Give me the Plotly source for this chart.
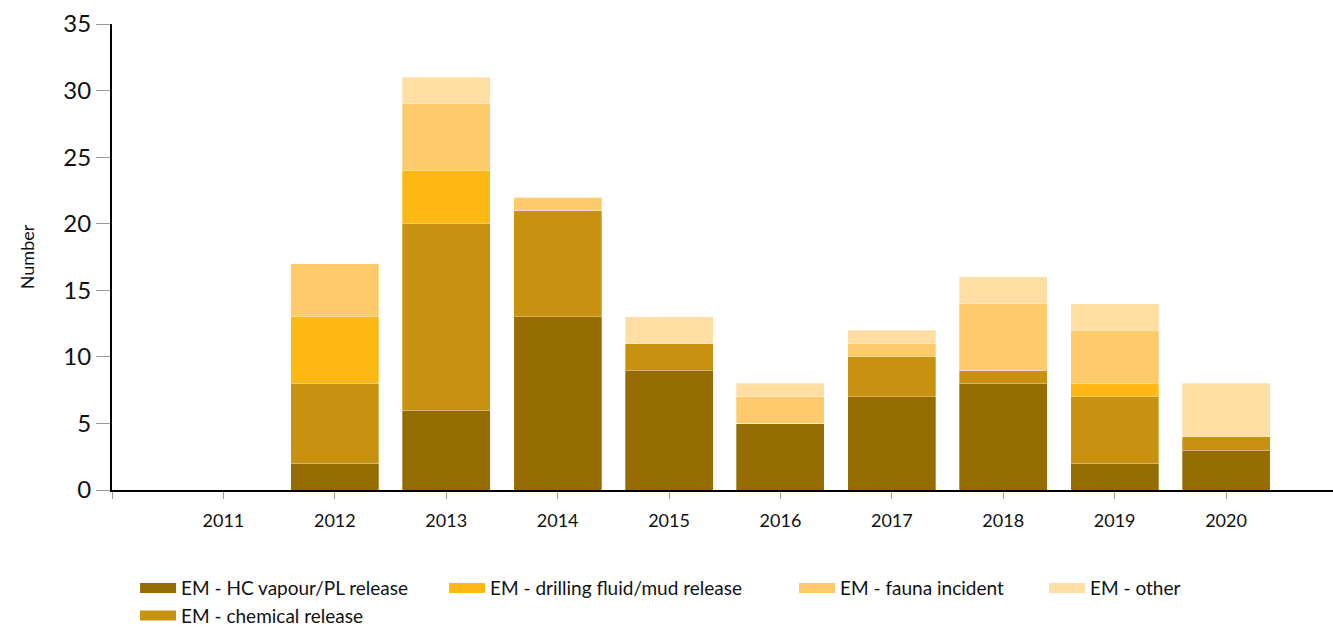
import plotly.graph_objects as go

years = [2011, 2012, 2013, 2014, 2015, 2016, 2017, 2018, 2019, 2020]
year_labels = [str(y) for y in years]

hc_vapour = [0, 2, 6, 13, 9, 5, 7, 8, 2, 3]
chemical = [0, 6, 14, 8, 2, 0, 3, 1, 5, 1]
drilling = [0, 5, 4, 0, 0, 0, 0, 0, 1, 0]
fauna = [0, 4, 5, 1, 0, 2, 1, 5, 4, 0]
other = [0, 0, 2, 0, 2, 1, 1, 2, 2, 4]

# (name, values, colour, legend id, legend x (container), legend y (container))
series = [
    ("EM - HC vapour/PL release", hc_vapour, "rgb(148,108,0)", "legend", 0.1013, 0.062),
    ("EM - chemical release", chemical, "rgb(200,145,16)", "legend5", 0.1013, 0.018),
    ("EM - drilling fluid/mud release", drilling, "rgb(253,184,19)", "legend2", 0.3331, 0.062),
    ("EM - fauna incident", fauna, "rgb(255,202,106)", "legend3", 0.5957, 0.062),
    ("EM - other", other, "rgb(255,222,163)", "legend4", 0.7832, 0.062),
]

FONT = "Lato, 'Open Sans', sans-serif"

fig = go.Figure()
legends = {}
for name, vals, color, leg, lx, ly in series:
    fig.add_trace(go.Bar(
        x=years, y=vals, name=name, legendgroup=name, showlegend=False,
        marker=dict(color=color, line=dict(color="rgba(255,255,255,0.5)", width=0.6)),
        hoverinfo="x+y+name",
    ))
    # legend entry with a wide rectangular swatch
    fig.add_trace(go.Scatter(
        x=[None], y=[None], mode="lines", name=name, legendgroup=name,
        legend=leg, line=dict(color=color, width=20), hoverinfo="skip",
    ))
    legends[leg] = dict(
        orientation="h", xref="container", yref="container",
        x=lx, xanchor="left", y=ly, yanchor="middle",
        font=dict(size=19, family=FONT, color="#111111"),
        itemwidth=36, bgcolor="rgba(0,0,0,0)",
    )

fig.update_layout(
    barmode="stack",
    bargap=0.21,
    width=1333, height=627,
    margin=dict(l=112, r=0, t=24, b=137),
    paper_bgcolor="white", plot_bgcolor="white",
    font=dict(family=FONT, color="#111111"),
    showlegend=True,
    **legends,
    xaxis=dict(
        range=[2010, 2020.96],
        tickvals=[2010] + years, ticktext=[""] + year_labels,
        showline=True, linecolor="black", linewidth=2,
        ticks="outside", ticklen=7, tickcolor="#999999", tickwidth=1,
        tickfont=dict(size=18, family=FONT, color="#111111"),
        ticklabelstandoff=6,
        showgrid=False, zeroline=False, automargin=False,
    ),
    yaxis=dict(
        range=[0, 35], dtick=5,
        title=dict(text="Number", font=dict(size=18, family=FONT, color="#111111"), standoff=24),
        showline=True, linecolor="black", linewidth=2,
        ticks="outside", ticklen=14, tickcolor="#999999", tickwidth=1,
        tickfont=dict(size=24, family=FONT, color="#111111"),
        showgrid=False, zeroline=False, automargin=False,
    ),
)

fig.write_html(
    "out.html",
    config={"displayModeBar": False},
    post_script="document.body.style.margin='0px';",
)
